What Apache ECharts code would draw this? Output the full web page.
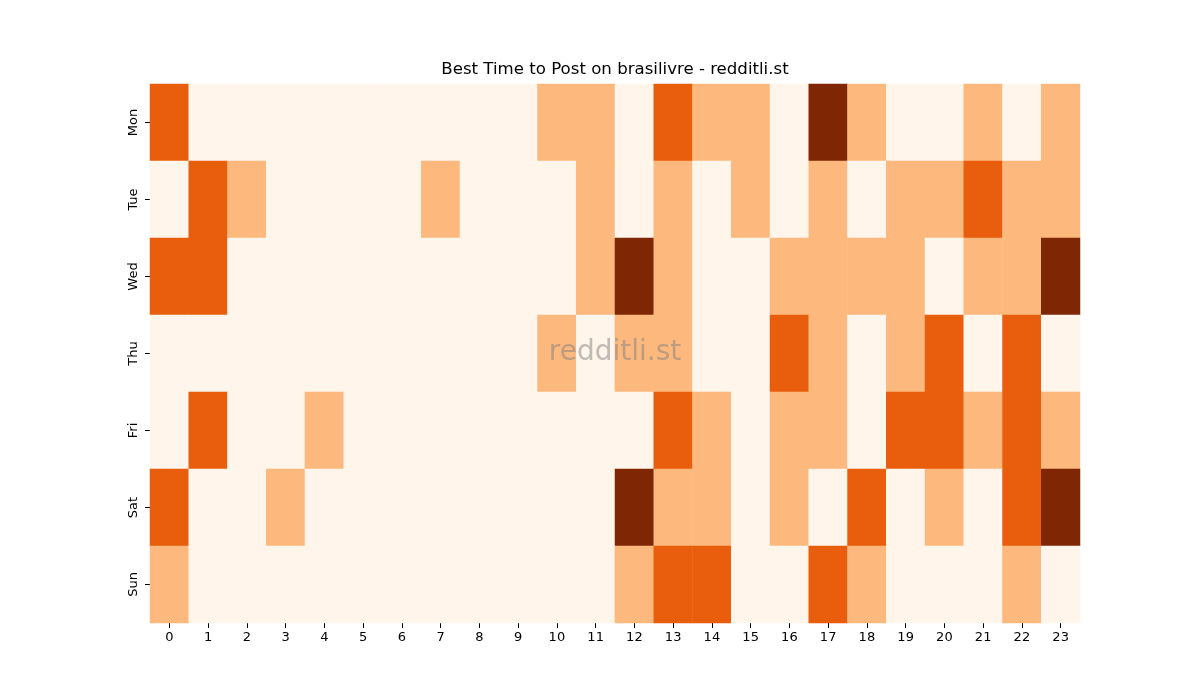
<!DOCTYPE html>
<html>
<head>
<meta charset="utf-8">
<script src="https://cdn.jsdelivr.net/npm/echarts@6/dist/echarts.min.js"></script>
<style>html,body{margin:0;padding:0;background:#fff}#c{width:1200px;height:700px}</style>
</head>
<body>
<div id="c"></div>
<script>
const hours = ['0','1','2','3','4','5','6','7','8','9','10','11','12','13','14','15','16','17','18','19','20','21','22','23'];
const days = ['Mon','Tue','Wed','Thu','Fri','Sat','Sun'];
const mon = [2,0,0,0,0,0,0,0,0,0,1,1,0,2,1,1,0,3,1,0,0,1,0,1];
const tue = [0,2,1,0,0,0,0,1,0,0,0,1,0,1,0,1,0,1,0,1,1,2,1,1];
const wed = [2,2,0,0,0,0,0,0,0,0,0,1,3,1,0,0,1,1,1,1,0,1,1,3];
const thu = [0,0,0,0,0,0,0,0,0,0,1,0,1,1,0,0,2,1,0,1,2,0,2,0];
const fri = [0,2,0,0,1,0,0,0,0,0,0,0,0,2,1,0,1,1,0,2,2,1,2,1];
const sat = [2,0,0,1,0,0,0,0,0,0,0,0,3,1,1,0,1,0,2,0,1,0,2,3];
const sun = [1,0,0,0,0,0,0,0,0,0,0,0,1,2,2,0,0,2,1,0,0,0,1,0];
const rows = [mon,tue,wed,thu,fri,sat,sun];
const data = [];
rows.forEach((r,yi)=>r.forEach((v,xi)=>data.push([xi,yi,v])));

const chart = echarts.init(document.getElementById('c'));
const font = 'DejaVu Sans';
chart.setOption({
  animation:false,
  grid:{left:150,right:120,top:84,bottom:77},
  xAxis:{type:'category',data:hours,
    axisLine:{show:false},
    axisTick:{show:true,alignWithLabel:true,length:5,lineStyle:{color:'#000'}},
    axisLabel:{color:'#000',fontSize:13,fontFamily:font,margin:8},
    splitArea:{show:false}},
  yAxis:{type:'category',data:days,inverse:true,
    axisLine:{show:false},
    axisTick:{show:true,alignWithLabel:true,length:5,lineStyle:{color:'#000'}},
    axisLabel:{color:'#000',fontSize:13,fontFamily:font,rotate:90,margin:10}},
  visualMap:{type:'piecewise',show:false,dimension:2,
    pieces:[{value:0,color:'#fff5eb'},{value:1,color:'#fdb97d'},{value:2,color:'#e95e0d'},{value:3,color:'#7f2704'}]},
  series:[{type:'heatmap',data:data,itemStyle:{borderWidth:0},emphasis:{disabled:true}}],
  graphic:[
    {type:'text',x:615,y:70,style:{text:'Best Time to Post on brasilivre - redditli.st',fontSize:16.6,fontFamily:font,fill:'#000',textAlign:'center',textVerticalAlign:'middle'}},
    {type:'text',x:615,y:353,z:100,style:{text:'redditli.st',fontSize:28,fontFamily:font,fill:'rgba(128,128,128,0.5)',textAlign:'center',textVerticalAlign:'middle'}}
  ]
});
</script>
</body>
</html>
